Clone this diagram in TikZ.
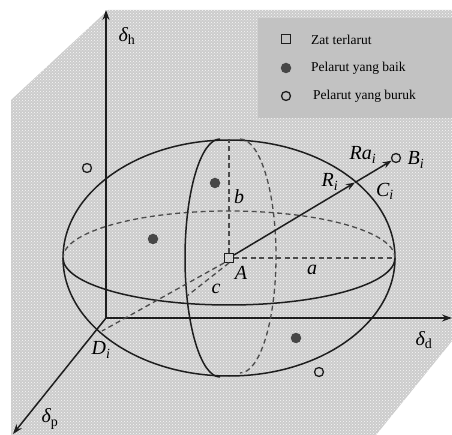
\documentclass[tikz,border=0pt]{standalone}
\usepackage{fontspec}
\setmainfont{Liberation Serif}
\usetikzlibrary{arrows.meta,patterns}
\definecolor{bgcol}{RGB}{204,204,204}
\definecolor{legcol}{RGB}{194,194,194}
\definecolor{ink}{RGB}{30,30,30}
\definecolor{dashcol}{RGB}{75,75,75}
\definecolor{dotcol}{RGB}{70,70,70}
\begin{document}
\begin{tikzpicture}[x=1pt,y=-1pt,
  solid line/.style={draw=ink,line width=1.5pt},
  hidden/.style={draw=dashcol,line width=1.3pt,dash pattern=on 5pt off 3.5pt},
  axis/.style={draw=ink,line width=1.5pt,-{Stealth[length=10pt,width=7pt]}},
  vec/.style={draw=ink,line width=1.5pt,-{Stealth[length=9pt,width=6.5pt]}},
  gooddot/.style={circle,fill=dotcol,minimum size=10.5pt,inner sep=0pt},
  baddot/.style={circle,draw=ink,line width=1.3pt,minimum size=9pt,inner sep=0pt},
  solute/.style={rectangle,draw=ink,line width=1.3pt,minimum size=8.5pt,inner sep=0pt},
  lbl/.style={font=\fontsize{20}{20}\selectfont\itshape,inner sep=0pt},
  legtxt/.style={font=\fontsize{13.5}{14}\selectfont,inner sep=0pt,anchor=west}]
\useasboundingbox (0,0) rectangle (452,435);
% background
\fill[bgcol] (108,10) -- (452,10) -- (452,341) -- (376,435) -- (11,435) -- (11,100) -- cycle;
\fill[pattern=crosshatch dots,pattern color=white!85!bgcol] (108,10) -- (452,10) -- (452,341) -- (376,435) -- (11,435) -- (11,100) -- cycle;
% legend
\fill[legcol] (258,18) rectangle (452,118);
\node[solute] (lsq) at (286,39) {};
\node[gooddot] (ldot) at (286,68) {};
\node[baddot] (lcirc) at (286,96) {};
\node[legtxt] (t1) at (311,40) {Zat terlarut};
\node[legtxt] (t2) at (311,68) {Pelarut yang baik};
\node[legtxt] (t3) at (313,96) {Pelarut yang buruk};
% axes
\coordinate (O) at (106,318);
\coordinate (H) at (106,10);
\coordinate (D) at (452,318);
\coordinate (P) at (13,434);
\draw[axis] (O) -- (H);
\draw[axis] (O) -- (D);
\draw[axis] (O) -- (P);
\node[lbl] (dh) at (127,36) {δ\textsubscript{\upshape h}};
\node[lbl] (dd) at (424,340) {δ\textsubscript{\upshape d}};
\node[lbl] (dp) at (50,419) {δ\textsubscript{\upshape p}};
% ellipsoid
\draw[solid line] (229,258) ellipse [x radius=166pt, y radius=118pt];
\draw[solid line] (63,258) arc [start angle=180, end angle=360, x radius=166pt, y radius=47pt];
\draw[hidden] (395,258) arc [start angle=0, end angle=180, x radius=166pt, y radius=47pt];
\draw[solid line] (220,139) arc [start angle=90, end angle=270, x radius=35pt, y radius=119pt];
\draw[hidden] (240,139) arc [start angle=90, end angle=-90, x radius=36pt, y radius=117pt];
% solute point and axes of ellipsoid
\node[solute] (A) at (229,258) {};
\coordinate (Top) at (229,140);
\coordinate (Right) at (395,258);
\coordinate (Di) at (102,331);
\coordinate (Cend) at (187,296);
\draw[hidden] (A) -- (Top);
\draw[hidden] (A) -- (Right);
\draw[hidden] (A.south west) -- (Di);
\draw[hidden] (A.south) -- (Cend);
\node[lbl] (la) at (241,273) {A};
\node[lbl] (lb) at (239,197) {b};
\node[lbl] (lA) at (312,270) {a};
\node[lbl] (lc) at (216,289) {c};
\node[lbl] (lD) at (101,350) {D\textsubscript{\itshape i}};
% vector to B_i
\node[baddot] (Bi) at (396,158) {};
\coordinate (Ci) at (355,182.5);
\draw[vec] (A) -- (Ci);
\draw[vec] (Ci) -- (Bi);
\node[lbl] (lR) at (330,182) {R\textsubscript{\itshape i}};
\node[lbl] (lRa) at (363,155) {Ra\textsubscript{\itshape i}};
\node[lbl] (lC) at (385,191) {C\textsubscript{\itshape i}};
\node[lbl] (lB) at (416,160) {B\textsubscript{\itshape i}};
% solvents
\node[gooddot] (g1) at (215,183) {};
\node[gooddot] (g2) at (153,239) {};
\node[gooddot] (g3) at (296,338) {};
\node[baddot] (b1) at (87,168) {};
\node[baddot] (b2) at (319,372) {};
\end{tikzpicture}
\end{document}
